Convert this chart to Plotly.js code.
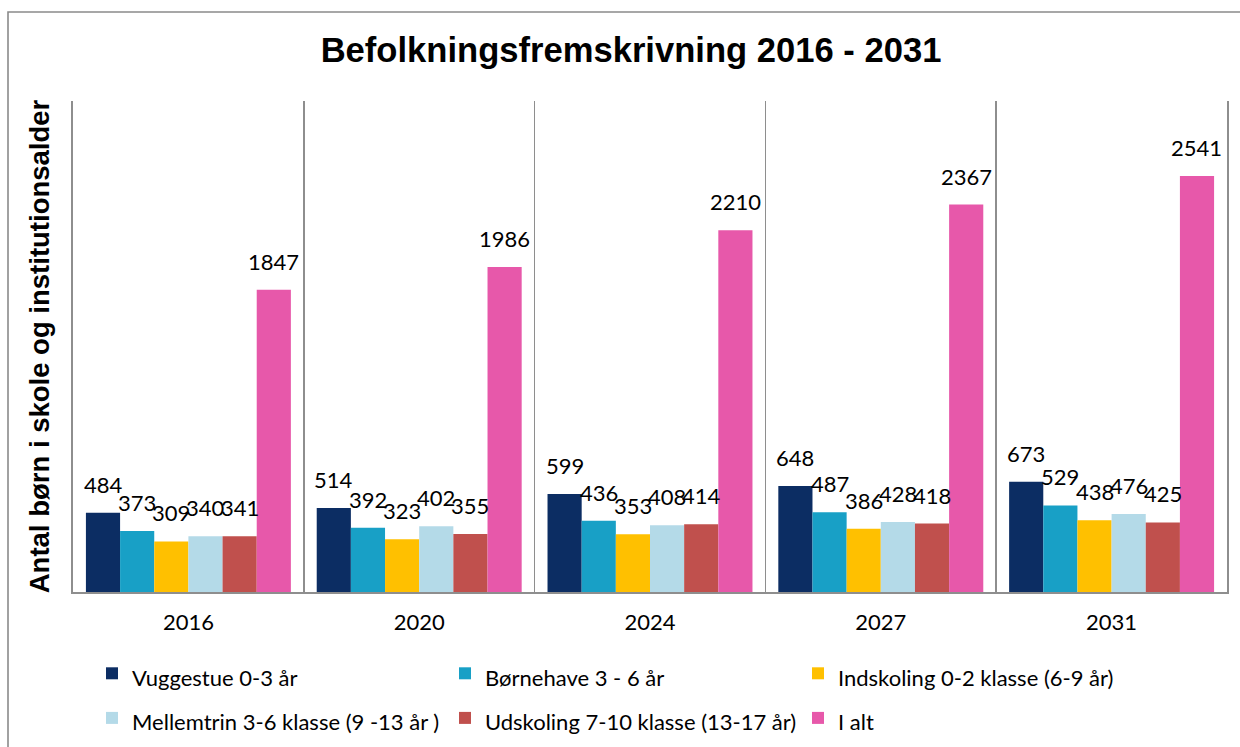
<!DOCTYPE html>
<html>
<head>
<meta charset="utf-8">
<script src="https://cdn.plot.ly/plotly-3.0.1.min.js"></script>
<style>
  html, body { margin: 0; padding: 0; background: #ffffff; }
  #chart { width: 1240px; height: 747px; }
</style>
</head>
<body>
<div id="chart"></div>
<script>
// ---- data ----
const categories = ['2016', '2020', '2024', '2027', '2031'];
const seriesNames = [
  'Vuggestue 0-3 år',
  'Børnehave 3 - 6 år',
  'Indskoling 0-2 klasse (6-9 år)',
  'Mellemtrin 3-6 klasse (9 -13 år )',
  'Udskoling 7-10 klasse (13-17 år)',
  'I alt'
];
const vuggestue  = [484, 514, 599, 648, 673];
const bornehave  = [373, 392, 436, 487, 529];
const indskoling = [309, 323, 353, 386, 438];
const mellemtrin = [340, 402, 408, 428, 476];
const udskoling  = [341, 355, 414, 418, 425];
const iAlt       = [1847, 1986, 2210, 2367, 2541];
const chartTitle = 'Befolkningsfremskrivning 2016 - 2031';
const yTitle = 'Antal børn i skole og institutionsalder';

// ---- style ----
const colors = ['#0c2d63', '#18a0c6', '#ffc000', '#b4dae8', '#c0504d', '#e758aa'];
const seriesValues = [vuggestue, bornehave, indskoling, mellemtrin, udskoling, iAlt];

const W = 1240, H = 747;
const margin = { l: 73, r: 13, t: 101, b: 155, autoexpand: false };
const bargap = 0.112;
const labelFont = 'Lato, "Open Sans", sans-serif';
const gridColor = '#8e8e8e';

const plotW = W - margin.l - margin.r;
const plotH = H - margin.t - margin.b;
const px2x = p => (p - margin.l) / plotW;
const px2y = q => (H - margin.b - q) / plotH;

const traces = seriesValues.map((vals, i) => ({
  type: 'bar',
  name: '<span style="font-size:22px">' + seriesNames[i] + '</span>',
  x: categories,
  y: vals,
  marker: { color: colors[i] },
  hoverinfo: 'skip'
}));

// data labels placed above each bar through the axis scales (x = category index)
const catPx = plotW / categories.length;
const barPx = catPx * (1 - bargap) / seriesValues.length;
const annotations = [];
seriesValues.forEach((vals, i) => {
  vals.forEach((v, j) => {
    annotations.push({
      x: j, y: v, xref: 'x', yref: 'y',
      text: String(v), showarrow: false,
      xanchor: 'center', yanchor: 'bottom',
      xshift: (i - (seriesValues.length - 1) / 2) * barPx,
      yshift: 13,
      font: { family: labelFont, size: 22, color: '#000000' }
    });
  });
});

// outer frame (extends past the right and bottom edges)
const shapes = [{
  type: 'rect', xref: 'paper', yref: 'paper', layer: 'below',
  x0: px2x(8), x1: px2x(W + 10), y0: px2y(H + 10), y1: px2y(12),
  line: { color: '#8a8a8a', width: 1.6 }, fillcolor: 'rgba(0,0,0,0)'
}];

const layout = {
  width: W, height: H,
  margin: margin,
  paper_bgcolor: '#ffffff', plot_bgcolor: '#ffffff',
  barmode: 'group', bargap: bargap, bargroupgap: 0,
  showlegend: true,
  legend: {
    orientation: 'h',
    x: px2x(92), xanchor: 'left',
    y: px2y(646), yanchor: 'top',
    entrywidth: 308, entrywidthmode: 'pixels',
    traceorder: 'normal',
    bgcolor: 'rgba(0,0,0,0)', borderwidth: 0,
    font: { family: labelFont, size: 32, color: '#000000' }
  },
  title: {
    text: '<b>' + chartTitle + '</b>',
    xref: 'container', yref: 'container',
    x: 631 / W, xanchor: 'center',
    y: 1 - 50 / H, yanchor: 'middle',
    font: { family: '"Liberation Sans", Arial, sans-serif', size: 34.6, color: '#000000' }
  },
  xaxis: {
    type: 'category',
    range: [-0.5, categories.length - 0.5], autorange: false,
    tickson: 'boundaries',
    showgrid: true, gridcolor: gridColor, gridwidth: 1.6,
    showline: true, linecolor: gridColor, linewidth: 1.6,
    ticks: '', ticklabelstandoff: 10,
    tickfont: { family: labelFont, size: 22, color: '#000000' },
    fixedrange: true
  },
  yaxis: {
    range: [0, 3000], autorange: false,
    showgrid: false, zeroline: false,
    showline: true, mirror: true, linecolor: gridColor, linewidth: 1.6,
    showticklabels: false, ticks: '',
    title: {
      text: '<b>' + yTitle + '</b>',
      standoff: 14,
      font: { family: '"Liberation Sans", Arial, sans-serif', size: 27.5, color: '#000000' }
    },
    fixedrange: true
  },
  annotations: annotations,
  shapes: shapes
};

Plotly.newPlot('chart', traces, layout, { displayModeBar: false, staticPlot: true });
</script>
</body>
</html>
